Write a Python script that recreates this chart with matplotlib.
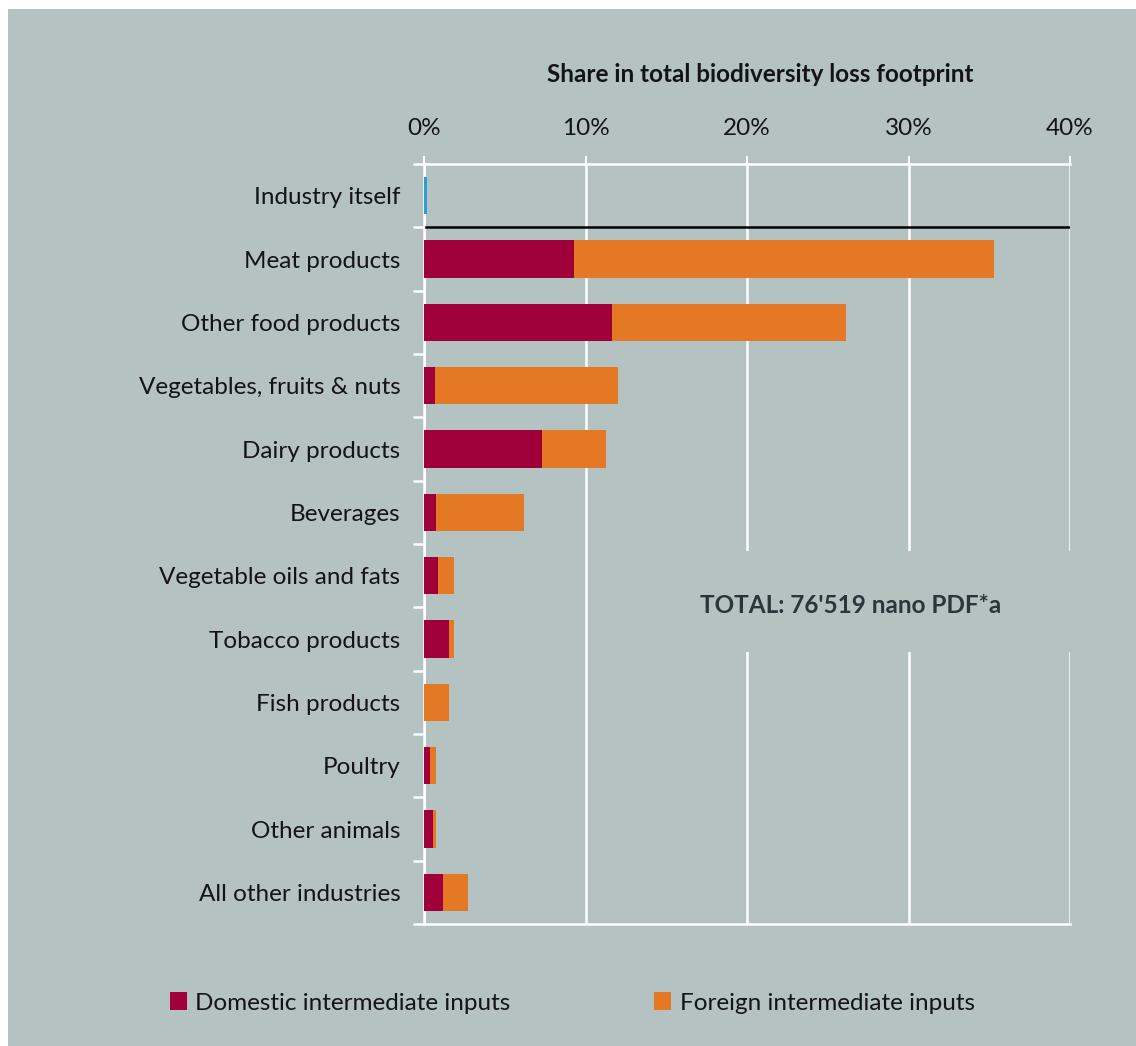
import matplotlib.pyplot as plt
from matplotlib.patches import Rectangle
from matplotlib.ticker import FuncFormatter

# data (share in %)
categories = ['Industry itself', 'Meat products', 'Other food products',
              'Vegetables, fruits & nuts', 'Dairy products', 'Beverages',
              'Vegetable oils and fats', 'Tobacco products', 'Fish products',
              'Poultry', 'Other animals', 'All other industries']
industry_itself = [0.2, 0, 0, 0, 0, 0, 0, 0, 0, 0, 0, 0]
domestic = [0, 9.3, 11.65, 0.7, 7.3, 0.75, 0.87, 1.55, 0.02, 0.37, 0.54, 1.2]
foreign = [0, 26.0, 14.45, 11.3, 4.0, 5.45, 1.0, 0.31, 1.53, 0.35, 0.18, 1.5]
xticks = [0, 10, 20, 30, 40]

bg = '#b4c2c1'
red = '#a0003a'
orange = '#e57824'
blue = '#2b9fd4'
txt = '#141414'
fs = 17.5

plt.rcParams['font.family'] = ['Lato', 'DejaVu Sans']

fig = plt.figure(figsize=(11.36, 10.46), dpi=100)
fig.patch.set_facecolor(bg)
# white margin on the top and left
fig.patches.append(Rectangle((0, 1 - 9 / 1046), 1, 9 / 1046, transform=fig.transFigure,
                             facecolor='white', edgecolor='none', zorder=-5))
fig.patches.append(Rectangle((0, 0), 8 / 1136, 1, transform=fig.transFigure,
                             facecolor='white', edgecolor='none', zorder=-5))

ax = fig.add_axes([424 / 1136, 122 / 1046, 646 / 1136, 760 / 1046])
ax.set_facecolor(bg)

y = list(range(len(categories)))
h = 0.59
ax.barh(y, industry_itself, height=h, color=blue, zorder=3)
b1 = ax.barh(y, domestic, height=h, color=red, zorder=3, label='Domestic intermediate inputs')
b2 = ax.barh(y, foreign, left=domestic, height=h, color=orange, zorder=3,
             label='Foreign intermediate inputs')

ax.set_xlim(0, 40)
ax.set_ylim(len(categories) - 0.5, -0.5)

ax.xaxis.tick_top()
ax.set_xticks(xticks)
ax.xaxis.set_major_formatter(FuncFormatter(lambda v, p: f'{v:.0f}%'))
ax.tick_params(axis='x', colors='white', labelcolor=txt, labelsize=fs, length=6, width=1.5, pad=12)
ax.grid(axis='x', color='white', linewidth=1.8, zorder=1)

ax.set_yticks(y)
ax.set_yticklabels(categories)
ax.set_yticks([i + 0.5 for i in range(-1, len(categories))], minor=True)
ax.tick_params(axis='y', which='major', length=0, labelsize=fs, labelcolor=txt, pad=17)
ax.tick_params(axis='y', which='minor', length=8, width=1.8, color='white')

for side in ['top', 'bottom', 'left']:
    ax.spines[side].set_color('white')
    ax.spines[side].set_linewidth(1.8)
ax.spines['right'].set_visible(False)

# separator between the industry itself and its suppliers
ax.plot([0.1, 40], [0.5, 0.5], color='black', linewidth=1.8, zorder=4)

# box behind the total, hides the gridlines
ax.add_patch(Rectangle((14, 5.61), 27, 1.6, facecolor=bg, edgecolor='none', zorder=2, clip_on=False))
ax.text(26.4, 6.47, "TOTAL: 76'519 nano PDF*a", ha='center', va='center',
        fontsize=fs, fontweight='bold', color='#2a363b', zorder=5)

fig.text(760 / 1136, 1 - 75 / 1046, 'Share in total biodiversity loss footprint',
         ha='center', va='center', fontsize=fs, fontweight='bold', color=txt)

fig.legend(handles=[b1, b2], loc='center left', bbox_to_anchor=(148 / 1136, 1 - 1003 / 1046),
           ncol=2, frameon=False, fontsize=fs, handlelength=0.7, handleheight=0.7,
           handletextpad=0.35, columnspacing=5.9, labelcolor=txt)

fig.savefig('out.png', dpi=100, facecolor=fig.get_facecolor())
